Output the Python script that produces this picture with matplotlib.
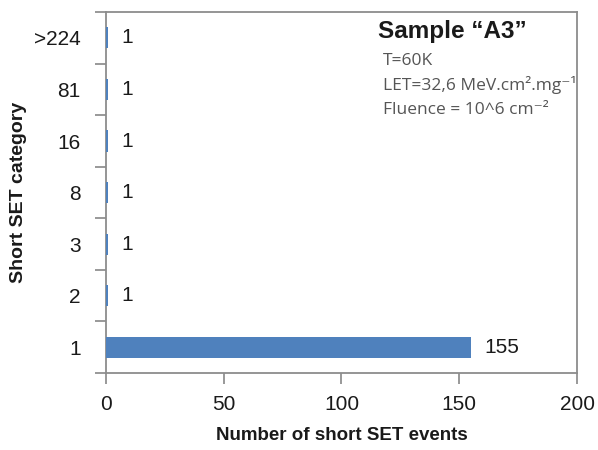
import matplotlib
matplotlib.use("Agg")
import matplotlib.pyplot as plt

# short SET counts per category (bottom to top)
categories = ["1", "2", "3", "8", "16", "81", ">224"]
counts = [155, 1, 1, 1, 1, 1, 1]

plt.rcParams['font.family'] = ['Liberation Sans', 'DejaVu Sans']

fig = plt.figure(figsize=(5.98, 4.5), dpi=100)
ax = fig.add_axes([0.177, 0.171, 0.788, 0.802])

ypos = range(len(categories))
ax.barh(ypos, counts, height=0.41, color="#4F81BD", zorder=3)

for y, c in zip(ypos, counts):
    ax.text(c + 5.5, y, str(c), va="center", ha="left", fontsize=15, color="#1a1a1a")

ax.set_xlim(0, 200)
ax.set_ylim(-0.5, len(categories) - 0.5)
ax.set_xticks([0, 50, 100, 150, 200])
ax.set_yticks([i - 0.5 for i in range(len(categories) + 1)], minor=False)
ax.set_yticklabels([])
ax.set_yticks(list(ypos), minor=True)
ax.set_yticklabels(categories, minor=True)
ax.tick_params(axis="y", which="major", length=8, color="#888888", width=1.2)
ax.tick_params(axis="y", which="minor", length=0, pad=18, labelsize=15, labelcolor="#1a1a1a")
ax.tick_params(axis="x", length=8, color="#888888", width=1.2, pad=8, labelsize=15, labelcolor="#1a1a1a")

for s in ax.spines.values():
    s.set_color("#8c8c8c")
    s.set_linewidth(1.3)
    s.set_zorder(2)

ax.set_xlabel("Number of short SET events", fontsize=13.5, fontweight="bold", color="#1a1a1a", labelpad=9)
ax.set_ylabel("Short SET category", fontsize=14, fontweight="bold", color="#1a1a1a", labelpad=5)

ax.text(0.578, 0.945, "Sample \u201cA3\u201d", transform=ax.transAxes, fontsize=17.5,
        fontweight="bold", color="#1a1a1a", va="center")
info = ["T=60K", "LET=32,6 MeV.cm\u00b2.mg\u207b\u00b9", "Fluence = 10^6 cm\u207b\u00b2"]
for i, line in enumerate(info):
    ax.text(0.588, 0.865 - i * 0.068, line, transform=ax.transAxes, fontsize=12.5,
            color="#555555", va="center", family=['Open Sans', 'DejaVu Sans'])

fig.savefig("out.png", dpi=100)
